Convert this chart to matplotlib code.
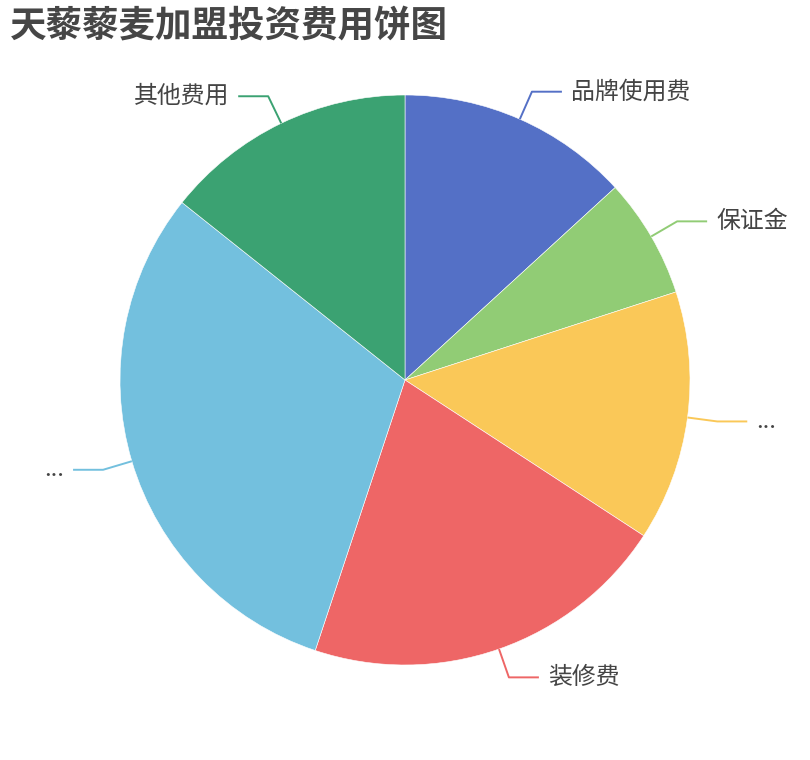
import numpy as np
import matplotlib
matplotlib.use("Agg")
import matplotlib.pyplot as plt

plt.rcParams['font.family'] = ['Noto Sans CJK SC', 'DejaVu Sans']

title = "天藜藜麦加盟投资费用饼图"
labels = ["品牌使用费", "保证金", "...", "装修费", "...", "其他费用"]
values = [13.2, 6.8, 14.2, 20.9, 30.6, 14.3]
colors = ["#5470c6", "#91cc75", "#fac858", "#ee6666", "#73c0de", "#3ba272"]

W, H = 810, 760
fig = plt.figure(figsize=(W / 100, H / 100), dpi=100)
ax = fig.add_axes([0, 0, 1, 1])

cx, cy, R = 405, 380, 285
ax.pie(values, colors=colors, startangle=90, counterclock=False,
       center=(cx, cy), radius=R, frame=True,
       wedgeprops=dict(edgecolor="white", linewidth=0.4))
ax.set_xlim(0, W)
ax.set_ylim(0, H)
ax.set_aspect("equal")
ax.axis("off")

total = sum(values)
cum = 0.0
len1, len2 = 30, 30
for lab, v, col in zip(labels, values, colors):
    mid = np.deg2rad((cum + v / 2) / total * 360.0)
    cum += v
    s, c = np.sin(mid), np.cos(mid)
    x0, y0 = cx + R * s, cy + R * c
    x1, y1 = cx + (R + len1) * s, cy + (R + len1) * c
    side = 1 if s >= 0 else -1
    x2 = x1 + side * len2
    ax.plot([x0, x1, x2], [y0, y1, y1], color=col, lw=1.4, solid_capstyle="butt")
    ax.text(x2 + side * 9, y1, lab, ha="left" if side > 0 else "right",
            va="center", fontsize=17.2, color="#444444")

fig.text(10 / W, 1 - 26 / H, title, fontsize=26.3, fontweight="bold",
         color="#464646", ha="left", va="center")

fig.savefig("out.png", dpi=100, facecolor="white")
